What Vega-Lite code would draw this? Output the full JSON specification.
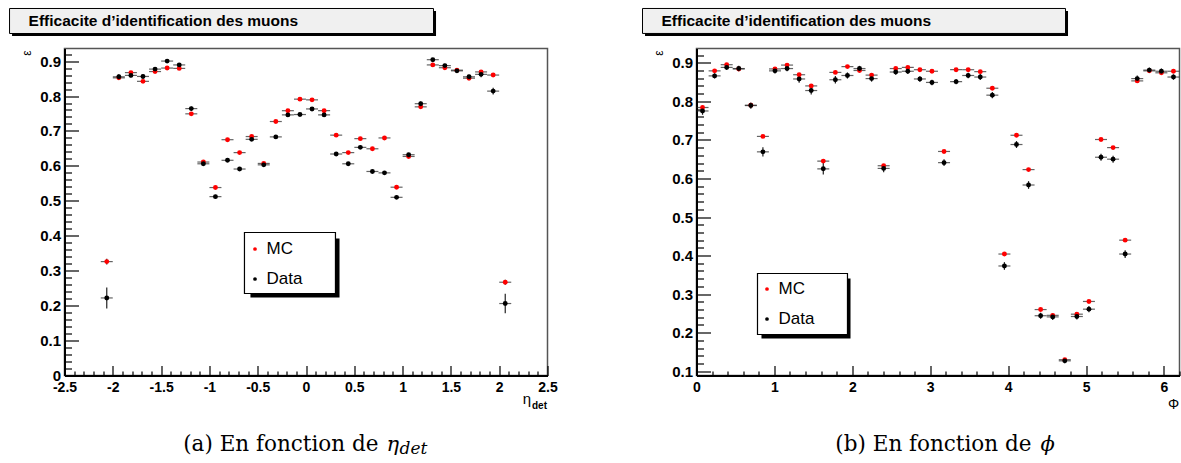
{
  "$schema": "https://vega.github.io/schema/vega-lite/v6.json",
  "padding": {"left": 7.5, "top": 6.5, "right": 2.5, "bottom": 0},
  "bounds": "flush",
  "spacing": 149,
  "config": {
    "font": "Liberation Sans",
    "background": "white",
    "view": {"stroke": "#555555", "strokeWidth": 1.5},
    "axis": {"grid": false, "labelFont": "Liberation Sans", "labelFontWeight": "bold", "labelColor": "#000000", "domainColor": "#000000", "domainWidth": 2, "tickColor": "#000000", "tickWidth": 1.2, "labelFlush": false, "labelBound": false, "labelOverlap": false, "titleColor": "#000000", "titleFont": "Liberation Sans", "titleFontWeight": "normal"}
  },
  "resolve": {"legend": {"color": "independent"}, "scale": {"color": "independent"}},
  "datasets": {
    "eta": [
      {"x": -2.0625, "eff": 0.326, "err": 0.008, "series": "MC"},
      {"x": -1.9375, "eff": 0.852, "err": 0.003, "series": "MC"},
      {"x": -1.8125, "eff": 0.867, "err": 0.003, "series": "MC"},
      {"x": -1.6875, "eff": 0.842, "err": 0.003, "series": "MC"},
      {"x": -1.5625, "eff": 0.870, "err": 0.003, "series": "MC"},
      {"x": -1.4375, "eff": 0.880, "err": 0.003, "series": "MC"},
      {"x": -1.3125, "eff": 0.879, "err": 0.003, "series": "MC"},
      {"x": -1.1875, "eff": 0.749, "err": 0.003, "series": "MC"},
      {"x": -1.0625, "eff": 0.611, "err": 0.003, "series": "MC"},
      {"x": -0.9375, "eff": 0.538, "err": 0.003, "series": "MC"},
      {"x": -0.8125, "eff": 0.675, "err": 0.003, "series": "MC"},
      {"x": -0.6875, "eff": 0.638, "err": 0.003, "series": "MC"},
      {"x": -0.5625, "eff": 0.684, "err": 0.003, "series": "MC"},
      {"x": -0.4375, "eff": 0.607, "err": 0.003, "series": "MC"},
      {"x": -0.3125, "eff": 0.727, "err": 0.003, "series": "MC"},
      {"x": -0.1875, "eff": 0.758, "err": 0.003, "series": "MC"},
      {"x": -0.0625, "eff": 0.791, "err": 0.003, "series": "MC"},
      {"x": 0.0625, "eff": 0.789, "err": 0.003, "series": "MC"},
      {"x": 0.1875, "eff": 0.758, "err": 0.003, "series": "MC"},
      {"x": 0.3125, "eff": 0.688, "err": 0.003, "series": "MC"},
      {"x": 0.4375, "eff": 0.638, "err": 0.003, "series": "MC"},
      {"x": 0.5625, "eff": 0.678, "err": 0.003, "series": "MC"},
      {"x": 0.6875, "eff": 0.649, "err": 0.003, "series": "MC"},
      {"x": 0.8125, "eff": 0.680, "err": 0.003, "series": "MC"},
      {"x": 0.9375, "eff": 0.539, "err": 0.003, "series": "MC"},
      {"x": 1.0625, "eff": 0.627, "err": 0.003, "series": "MC"},
      {"x": 1.1875, "eff": 0.769, "err": 0.003, "series": "MC"},
      {"x": 1.3125, "eff": 0.889, "err": 0.003, "series": "MC"},
      {"x": 1.4375, "eff": 0.881, "err": 0.003, "series": "MC"},
      {"x": 1.5625, "eff": 0.874, "err": 0.003, "series": "MC"},
      {"x": 1.6875, "eff": 0.851, "err": 0.003, "series": "MC"},
      {"x": 1.8125, "eff": 0.869, "err": 0.003, "series": "MC"},
      {"x": 1.9375, "eff": 0.860, "err": 0.003, "series": "MC"},
      {"x": 2.0625, "eff": 0.267, "err": 0.007, "series": "MC"},
      {"x": -2.0625, "eff": 0.222, "err": 0.030, "series": "Data"},
      {"x": -1.9375, "eff": 0.855, "err": 0.007, "series": "Data"},
      {"x": -1.8125, "eff": 0.859, "err": 0.006, "series": "Data"},
      {"x": -1.6875, "eff": 0.856, "err": 0.006, "series": "Data"},
      {"x": -1.5625, "eff": 0.877, "err": 0.005, "series": "Data"},
      {"x": -1.4375, "eff": 0.900, "err": 0.005, "series": "Data"},
      {"x": -1.3125, "eff": 0.889, "err": 0.005, "series": "Data"},
      {"x": -1.1875, "eff": 0.764, "err": 0.006, "series": "Data"},
      {"x": -1.0625, "eff": 0.606, "err": 0.005, "series": "Data"},
      {"x": -0.9375, "eff": 0.512, "err": 0.005, "series": "Data"},
      {"x": -0.8125, "eff": 0.616, "err": 0.005, "series": "Data"},
      {"x": -0.6875, "eff": 0.591, "err": 0.005, "series": "Data"},
      {"x": -0.5625, "eff": 0.676, "err": 0.005, "series": "Data"},
      {"x": -0.4375, "eff": 0.603, "err": 0.005, "series": "Data"},
      {"x": -0.3125, "eff": 0.683, "err": 0.004, "series": "Data"},
      {"x": -0.1875, "eff": 0.746, "err": 0.004, "series": "Data"},
      {"x": -0.0625, "eff": 0.747, "err": 0.004, "series": "Data"},
      {"x": 0.0625, "eff": 0.763, "err": 0.004, "series": "Data"},
      {"x": 0.1875, "eff": 0.746, "err": 0.004, "series": "Data"},
      {"x": 0.3125, "eff": 0.634, "err": 0.005, "series": "Data"},
      {"x": 0.4375, "eff": 0.606, "err": 0.005, "series": "Data"},
      {"x": 0.5625, "eff": 0.653, "err": 0.005, "series": "Data"},
      {"x": 0.6875, "eff": 0.584, "err": 0.005, "series": "Data"},
      {"x": 0.8125, "eff": 0.580, "err": 0.005, "series": "Data"},
      {"x": 0.9375, "eff": 0.510, "err": 0.005, "series": "Data"},
      {"x": 1.0625, "eff": 0.632, "err": 0.005, "series": "Data"},
      {"x": 1.1875, "eff": 0.778, "err": 0.006, "series": "Data"},
      {"x": 1.3125, "eff": 0.904, "err": 0.005, "series": "Data"},
      {"x": 1.4375, "eff": 0.887, "err": 0.005, "series": "Data"},
      {"x": 1.5625, "eff": 0.872, "err": 0.005, "series": "Data"},
      {"x": 1.6875, "eff": 0.855, "err": 0.006, "series": "Data"},
      {"x": 1.8125, "eff": 0.862, "err": 0.008, "series": "Data"},
      {"x": 1.9375, "eff": 0.814, "err": 0.010, "series": "Data"},
      {"x": 2.0625, "eff": 0.206, "err": 0.028, "series": "Data"}
    ],
    "phi": [
      {"x": 0.0775, "eff": 0.784, "err": 0.004, "series": "MC"},
      {"x": 0.2325, "eff": 0.879, "err": 0.003, "series": "MC"},
      {"x": 0.3875, "eff": 0.895, "err": 0.003, "series": "MC"},
      {"x": 0.5425, "eff": 0.884, "err": 0.003, "series": "MC"},
      {"x": 0.6975, "eff": 0.790, "err": 0.003, "series": "MC"},
      {"x": 0.8525, "eff": 0.709, "err": 0.004, "series": "MC"},
      {"x": 1.0075, "eff": 0.884, "err": 0.003, "series": "MC"},
      {"x": 1.1625, "eff": 0.894, "err": 0.003, "series": "MC"},
      {"x": 1.3175, "eff": 0.869, "err": 0.003, "series": "MC"},
      {"x": 1.4725, "eff": 0.840, "err": 0.003, "series": "MC"},
      {"x": 1.6275, "eff": 0.645, "err": 0.004, "series": "MC"},
      {"x": 1.7825, "eff": 0.875, "err": 0.003, "series": "MC"},
      {"x": 1.9375, "eff": 0.890, "err": 0.003, "series": "MC"},
      {"x": 2.0925, "eff": 0.880, "err": 0.003, "series": "MC"},
      {"x": 2.2475, "eff": 0.868, "err": 0.003, "series": "MC"},
      {"x": 2.4025, "eff": 0.633, "err": 0.004, "series": "MC"},
      {"x": 2.5575, "eff": 0.885, "err": 0.003, "series": "MC"},
      {"x": 2.7125, "eff": 0.888, "err": 0.003, "series": "MC"},
      {"x": 2.8675, "eff": 0.882, "err": 0.003, "series": "MC"},
      {"x": 3.0225, "eff": 0.878, "err": 0.003, "series": "MC"},
      {"x": 3.1775, "eff": 0.670, "err": 0.004, "series": "MC"},
      {"x": 3.3325, "eff": 0.882, "err": 0.003, "series": "MC"},
      {"x": 3.4875, "eff": 0.882, "err": 0.003, "series": "MC"},
      {"x": 3.6425, "eff": 0.877, "err": 0.003, "series": "MC"},
      {"x": 3.7975, "eff": 0.834, "err": 0.003, "series": "MC"},
      {"x": 3.9525, "eff": 0.404, "err": 0.004, "series": "MC"},
      {"x": 4.1075, "eff": 0.712, "err": 0.004, "series": "MC"},
      {"x": 4.2625, "eff": 0.623, "err": 0.004, "series": "MC"},
      {"x": 4.4175, "eff": 0.260, "err": 0.004, "series": "MC"},
      {"x": 4.5725, "eff": 0.245, "err": 0.004, "series": "MC"},
      {"x": 4.7275, "eff": 0.130, "err": 0.003, "series": "MC"},
      {"x": 4.8825, "eff": 0.248, "err": 0.004, "series": "MC"},
      {"x": 5.0375, "eff": 0.281, "err": 0.004, "series": "MC"},
      {"x": 5.1925, "eff": 0.701, "err": 0.004, "series": "MC"},
      {"x": 5.3475, "eff": 0.680, "err": 0.004, "series": "MC"},
      {"x": 5.5025, "eff": 0.440, "err": 0.004, "series": "MC"},
      {"x": 5.6575, "eff": 0.853, "err": 0.003, "series": "MC"},
      {"x": 5.8125, "eff": 0.879, "err": 0.003, "series": "MC"},
      {"x": 5.9675, "eff": 0.874, "err": 0.003, "series": "MC"},
      {"x": 6.1225, "eff": 0.878, "err": 0.003, "series": "MC"},
      {"x": 0.0775, "eff": 0.775, "err": 0.010, "series": "Data"},
      {"x": 0.2325, "eff": 0.866, "err": 0.007, "series": "Data"},
      {"x": 0.3875, "eff": 0.888, "err": 0.007, "series": "Data"},
      {"x": 0.5425, "eff": 0.885, "err": 0.007, "series": "Data"},
      {"x": 0.6975, "eff": 0.789, "err": 0.008, "series": "Data"},
      {"x": 0.8525, "eff": 0.669, "err": 0.012, "series": "Data"},
      {"x": 1.0075, "eff": 0.879, "err": 0.007, "series": "Data"},
      {"x": 1.1625, "eff": 0.885, "err": 0.007, "series": "Data"},
      {"x": 1.3175, "eff": 0.858, "err": 0.010, "series": "Data"},
      {"x": 1.4725, "eff": 0.828, "err": 0.010, "series": "Data"},
      {"x": 1.6275, "eff": 0.625, "err": 0.015, "series": "Data"},
      {"x": 1.7825, "eff": 0.856, "err": 0.010, "series": "Data"},
      {"x": 1.9375, "eff": 0.867, "err": 0.008, "series": "Data"},
      {"x": 2.0925, "eff": 0.885, "err": 0.007, "series": "Data"},
      {"x": 2.2475, "eff": 0.859, "err": 0.008, "series": "Data"},
      {"x": 2.4025, "eff": 0.626, "err": 0.010, "series": "Data"},
      {"x": 2.5575, "eff": 0.876, "err": 0.007, "series": "Data"},
      {"x": 2.7125, "eff": 0.878, "err": 0.007, "series": "Data"},
      {"x": 2.8675, "eff": 0.858, "err": 0.007, "series": "Data"},
      {"x": 3.0225, "eff": 0.849, "err": 0.007, "series": "Data"},
      {"x": 3.1775, "eff": 0.641, "err": 0.009, "series": "Data"},
      {"x": 3.3325, "eff": 0.851, "err": 0.007, "series": "Data"},
      {"x": 3.4875, "eff": 0.867, "err": 0.007, "series": "Data"},
      {"x": 3.6425, "eff": 0.863, "err": 0.008, "series": "Data"},
      {"x": 3.7975, "eff": 0.816, "err": 0.008, "series": "Data"},
      {"x": 3.9525, "eff": 0.373, "err": 0.010, "series": "Data"},
      {"x": 4.1075, "eff": 0.688, "err": 0.009, "series": "Data"},
      {"x": 4.2625, "eff": 0.583, "err": 0.010, "series": "Data"},
      {"x": 4.4175, "eff": 0.244, "err": 0.008, "series": "Data"},
      {"x": 4.5725, "eff": 0.241, "err": 0.008, "series": "Data"},
      {"x": 4.7275, "eff": 0.127, "err": 0.006, "series": "Data"},
      {"x": 4.8825, "eff": 0.242, "err": 0.008, "series": "Data"},
      {"x": 5.0375, "eff": 0.261, "err": 0.008, "series": "Data"},
      {"x": 5.1925, "eff": 0.655, "err": 0.009, "series": "Data"},
      {"x": 5.3475, "eff": 0.650, "err": 0.009, "series": "Data"},
      {"x": 5.5025, "eff": 0.404, "err": 0.010, "series": "Data"},
      {"x": 5.6575, "eff": 0.859, "err": 0.008, "series": "Data"},
      {"x": 5.8125, "eff": 0.881, "err": 0.007, "series": "Data"},
      {"x": 5.9675, "eff": 0.878, "err": 0.007, "series": "Data"},
      {"x": 6.1225, "eff": 0.863, "err": 0.007, "series": "Data"}
    ]
  },
  "hconcat": [
    {
      "width": 483,
      "height": 327,
      "resolve": {"axis": {"x": "independent", "y": "independent"}},
      "layer": [
        {
          "data": {"values": [{}]},
          "mark": {"type": "rect", "color": "#000000"},
          "encoding": {
            "x": {"datum": -3.043, "type": "quantitative", "axis": null},
            "x2": {"datum": 1.346},
            "y": {"datum": 1.0434, "type": "quantitative", "axis": null},
            "y2": {"datum": 0.9717}
          }
        },
        {
          "data": {"values": [{}]},
          "mark": {"type": "rect", "fill": "#f0f0f0", "stroke": "#000000", "strokeWidth": 1},
          "encoding": {
            "x": {"datum": -3.069, "type": "quantitative", "axis": null},
            "x2": {"datum": 1.32},
            "y": {"datum": 1.0505, "type": "quantitative", "axis": null},
            "y2": {"datum": 0.9789}
          }
        },
        {
          "data": {"values": [{}]},
          "mark": {"type": "text", "text": "Efficacite d’identification des muons", "font": "Liberation Sans", "fontSize": 15.5, "fontWeight": "bold", "align": "left", "baseline": "middle", "color": "#000000"},
          "encoding": {
            "x": {"datum": -2.872, "type": "quantitative", "axis": null},
            "y": {"datum": 1.0147, "type": "quantitative", "axis": null}
          }
        },
        {
          "data": {"values": [{}]},
          "mark": {"type": "rect", "color": "#000000"},
          "encoding": {
            "x": {"datum": -0.575, "type": "quantitative", "axis": null},
            "x2": {"datum": 0.347},
            "y": {"datum": 0.3921, "type": "quantitative", "axis": null},
            "y2": {"datum": 0.2233}
          }
        },
        {
          "data": {"values": [{}]},
          "mark": {"type": "rect", "fill": "#ffffff", "stroke": "#000000", "strokeWidth": 1.2},
          "encoding": {
            "x": {"datum": -0.637, "type": "quantitative", "axis": null},
            "x2": {"datum": 0.305},
            "y": {"datum": 0.4093, "type": "quantitative", "axis": null},
            "y2": {"datum": 0.2347}
          }
        },
        {
          "data": {"name": "eta"},
          "mark": {"type": "errorbar", "color": "#222222", "thickness": 1.2},
          "encoding": {
            "x": {"field": "x", "type": "quantitative", "axis": null},
            "y": {"field": "eff", "type": "quantitative", "axis": null},
            "yError": {"field": "err"}
          }
        },
        {
          "data": {"name": "eta"},
          "mark": {"type": "tick", "orient": "horizontal", "size": 12, "thickness": 1.2, "color": "#222222"},
          "encoding": {
            "x": {"field": "x", "type": "quantitative", "axis": {"orient": "bottom", "values": [-2.4, -2.3, -2.2, -2.1, -1.9, -1.8, -1.7, -1.6, -1.4, -1.3, -1.2, -1.1, -0.9, -0.8, -0.7, -0.6, -0.4, -0.3, -0.2, -0.1, 0.1, 0.2, 0.3, 0.4, 0.6, 0.7, 0.8, 0.9, 1.1, 1.2, 1.3, 1.4, 1.6, 1.7, 1.8, 1.9, 2.1, 2.2, 2.3, 2.4], "labels": false, "domain": false, "tickSize": -4.5, "title": null}},
            "y": {"field": "eff", "type": "quantitative", "axis": {"orient": "left", "values": [0.02, 0.04, 0.06, 0.08, 0.12, 0.14, 0.16, 0.18, 0.22, 0.24, 0.26, 0.28, 0.32, 0.34, 0.36, 0.38, 0.42, 0.44, 0.46, 0.48, 0.52, 0.54, 0.56, 0.58, 0.62, 0.64, 0.66, 0.68, 0.72, 0.74, 0.76, 0.78, 0.82, 0.84, 0.86, 0.88, 0.92], "labels": false, "domain": false, "tickSize": -7, "title": null}}
          }
        },
        {
          "data": {"name": "eta"},
          "mark": {"type": "circle", "size": 24, "opacity": 1},
          "encoding": {
            "x": {"field": "x", "type": "quantitative", "scale": {"domain": [-2.5, 2.5], "nice": false, "zero": false}, "axis": {"orient": "bottom", "values": [-2.5, -2, -1.5, -1, -0.5, 0, 0.5, 1, 1.5, 2, 2.5], "labelExpr": "'' + datum.value", "labelFontSize": 14, "labelPadding": 15, "tickSize": -10, "title": "η", "titleX": 462, "titleY": 23, "titleFontSize": 15, "titleAlign": "center", "titleBaseline": "middle", "titleAngle": 0}},
            "y": {"field": "eff", "type": "quantitative", "scale": {"domain": [0, 0.936], "nice": false, "zero": false}, "axis": {"orient": "left", "values": [0, 0.1, 0.2, 0.3, 0.4, 0.5, 0.6, 0.7, 0.8, 0.9], "labelExpr": "datum.value === 0 ? '0' : format(datum.value, '.1f')", "labelFontSize": 15, "labelPadding": 18, "tickSize": -14, "title": "ε", "titleX": -38, "titleY": 4, "titleFontSize": 12, "titleAngle": -90, "titleAlign": "center", "titleBaseline": "middle"}},
            "color": {"field": "series", "type": "nominal", "scale": {"domain": ["MC", "Data"], "range": ["#ff0000", "#000000"]}, "legend": {"title": null, "orient": "none", "direction": "vertical", "legendX": 182, "legendY": 192, "symbolType": "circle", "symbolSize": 14, "symbolStrokeWidth": 0, "labelFontSize": 17, "labelFont": "Liberation Sans", "labelColor": "#000000", "labelOffset": 3, "rowPadding": 12, "padding": 0}}
          }
        },
        {
          "data": {"values": [{}]},
          "mark": {"type": "text", "text": "det", "font": "Liberation Sans", "fontSize": 10, "fontWeight": "bold", "align": "center", "baseline": "middle", "color": "#000000"},
          "encoding": {
            "x": {"datum": 2.417, "type": "quantitative", "axis": null},
            "y": {"datum": -0.0859, "type": "quantitative", "axis": null}
          }
        },
        {
          "data": {"values": [{}]},
          "mark": {"type": "text", "text": "(a) En fonction de", "font": "DejaVu Serif", "fontSize": 21.5, "align": "right", "baseline": "alphabetic", "color": "#000000"},
          "encoding": {
            "x": {"datum": 0.75, "type": "quantitative", "axis": null},
            "y": {"datum": -0.2147, "type": "quantitative", "axis": null}
          }
        },
        {
          "data": {"values": [{}]},
          "mark": {"type": "text", "text": "η", "font": "DejaVu Serif", "fontSize": 21, "fontStyle": "italic", "align": "left", "baseline": "alphabetic", "color": "#000000"},
          "encoding": {
            "x": {"datum": 0.834, "type": "quantitative", "axis": null},
            "y": {"datum": -0.2147, "type": "quantitative", "axis": null}
          }
        },
        {
          "data": {"values": [{}]},
          "mark": {"type": "text", "text": "det", "font": "DejaVu Serif", "fontSize": 17, "fontStyle": "italic", "align": "left", "baseline": "alphabetic", "color": "#000000"},
          "encoding": {
            "x": {"datum": 0.968, "type": "quantitative", "axis": null},
            "y": {"datum": -0.226, "type": "quantitative", "axis": null}
          }
        }
      ]
    },
    {
      "width": 483,
      "height": 327,
      "resolve": {"axis": {"x": "independent", "y": "independent"}},
      "layer": [
        {
          "data": {"values": [{}]},
          "mark": {"type": "rect", "color": "#000000"},
          "encoding": {
            "x": {"datum": -0.661, "type": "quantitative", "axis": null},
            "x2": {"datum": 4.769},
            "y": {"datum": 1.0343, "type": "quantitative", "axis": null},
            "y2": {"datum": 0.9695}
          }
        },
        {
          "data": {"values": [{}]},
          "mark": {"type": "rect", "fill": "#f0f0f0", "stroke": "#000000", "strokeWidth": 1},
          "encoding": {
            "x": {"datum": -0.693, "type": "quantitative", "axis": null},
            "x2": {"datum": 4.737},
            "y": {"datum": 1.0408, "type": "quantitative", "axis": null},
            "y2": {"datum": 0.976}
          }
        },
        {
          "data": {"values": [{}]},
          "mark": {"type": "text", "text": "Efficacite d’identification des muons", "font": "Liberation Sans", "fontSize": 15.5, "fontWeight": "bold", "align": "left", "baseline": "middle", "color": "#000000"},
          "encoding": {
            "x": {"datum": -0.449, "type": "quantitative", "axis": null},
            "y": {"datum": 1.0083, "type": "quantitative", "axis": null}
          }
        },
        {
          "data": {"values": [{}]},
          "mark": {"type": "rect", "color": "#000000"},
          "encoding": {
            "x": {"datum": 0.834, "type": "quantitative", "axis": null},
            "x2": {"datum": 1.977},
            "y": {"datum": 0.3406, "type": "quantitative", "axis": null},
            "y2": {"datum": 0.185}
          }
        },
        {
          "data": {"values": [{}]},
          "mark": {"type": "rect", "fill": "#ffffff", "stroke": "#000000", "strokeWidth": 1.2},
          "encoding": {
            "x": {"datum": 0.783, "type": "quantitative", "axis": null},
            "x2": {"datum": 1.938},
            "y": {"datum": 0.3535, "type": "quantitative", "axis": null},
            "y2": {"datum": 0.1953}
          }
        },
        {
          "data": {"name": "phi"},
          "mark": {"type": "errorbar", "color": "#222222", "thickness": 1.2},
          "encoding": {
            "x": {"field": "x", "type": "quantitative", "axis": null},
            "y": {"field": "eff", "type": "quantitative", "axis": null},
            "yError": {"field": "err"}
          }
        },
        {
          "data": {"name": "phi"},
          "mark": {"type": "tick", "orient": "horizontal", "size": 12, "thickness": 1.2, "color": "#222222"},
          "encoding": {
            "x": {"field": "x", "type": "quantitative", "axis": {"orient": "bottom", "values": [0.2, 0.4, 0.6, 0.8, 1.2, 1.4, 1.6, 1.8, 2.2, 2.4, 2.6, 2.8, 3.2, 3.4, 3.6, 3.8, 4.2, 4.4, 4.6, 4.8, 5.2, 5.4, 5.6, 5.8, 6.2], "labels": false, "domain": false, "tickSize": -4.5, "title": null}},
            "y": {"field": "eff", "type": "quantitative", "axis": {"orient": "left", "values": [0.12, 0.14, 0.16, 0.18, 0.22, 0.24, 0.26, 0.28, 0.32, 0.34, 0.36, 0.38, 0.42, 0.44, 0.46, 0.48, 0.52, 0.54, 0.56, 0.58, 0.62, 0.64, 0.66, 0.68, 0.72, 0.74, 0.76, 0.78, 0.82, 0.84, 0.86, 0.88, 0.92], "labels": false, "domain": false, "tickSize": -7, "title": null}}
          }
        },
        {
          "data": {"name": "phi"},
          "mark": {"type": "circle", "size": 24, "opacity": 1},
          "encoding": {
            "x": {"field": "x", "type": "quantitative", "scale": {"domain": [0, 6.2], "nice": false, "zero": false}, "axis": {"orient": "bottom", "values": [0, 1, 2, 3, 4, 5, 6], "labelExpr": "'' + datum.value", "labelFontSize": 14, "labelPadding": 15, "tickSize": -10, "title": "Φ", "titleX": 476.7, "titleY": 29, "titleFontSize": 14, "titleAlign": "center", "titleBaseline": "middle", "titleAngle": 0}},
            "y": {"field": "eff", "type": "quantitative", "scale": {"domain": [0.089, 0.937], "nice": false, "zero": false}, "axis": {"orient": "left", "values": [0.1, 0.2, 0.3, 0.4, 0.5, 0.6, 0.7, 0.8, 0.9], "labelExpr": "format(datum.value, '.1f')", "labelFontSize": 15, "labelPadding": 18, "tickSize": -14, "title": "ε", "titleX": -38, "titleY": 4, "titleFontSize": 12, "titleAngle": -90, "titleAlign": "center", "titleBaseline": "middle"}},
            "color": {"field": "series", "type": "nominal", "scale": {"domain": ["MC", "Data"], "range": ["#ff0000", "#000000"]}, "legend": {"title": null, "orient": "none", "direction": "vertical", "legendX": 62, "legendY": 232, "symbolType": "circle", "symbolSize": 14, "symbolStrokeWidth": 0, "labelFontSize": 17, "labelFont": "Liberation Sans", "labelColor": "#000000", "labelOffset": 3, "rowPadding": 12, "padding": 0}}
          }
        },
        {
          "data": {"values": [{}]},
          "mark": {"type": "text", "text": "(b) En fonction de", "font": "DejaVu Serif", "fontSize": 21.5, "align": "right", "baseline": "alphabetic", "color": "#000000"},
          "encoding": {
            "x": {"datum": 4.3, "type": "quantitative", "axis": null},
            "y": {"datum": -0.1055, "type": "quantitative", "axis": null}
          }
        },
        {
          "data": {"values": [{}]},
          "mark": {"type": "text", "text": "ϕ", "font": "DejaVu Serif", "fontSize": 21, "fontStyle": "italic", "align": "left", "baseline": "alphabetic", "color": "#000000"},
          "encoding": {
            "x": {"datum": 4.416, "type": "quantitative", "axis": null},
            "y": {"datum": -0.1055, "type": "quantitative", "axis": null}
          }
        }
      ]
    }
  ]
}
